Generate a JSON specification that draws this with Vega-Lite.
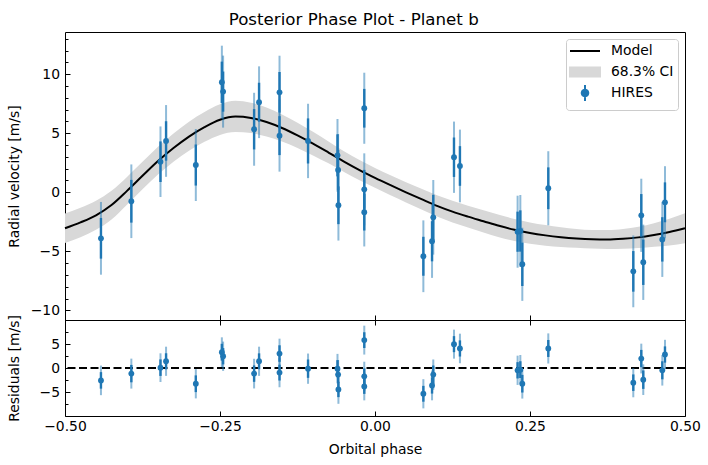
{
  "$schema": "https://vega.github.io/schema/vega-lite/v6.json",
  "background": "white",
  "padding": {"left": 6, "top": 11, "right": 12, "bottom": 5},
  "title": {"text": "Posterior Phase Plot - Planet b", "fontSize": 16.67, "font": "DejaVu Sans", "fontWeight": "normal", "color": "black", "anchor": "middle", "baseline": "bottom", "offset": -14},
  "config": {
    "font": "DejaVu Sans",
    "view": {"stroke": "black", "strokeWidth": 1},
    "axis": {"labelFont": "DejaVu Sans", "labelFontSize": 13.9, "labelColor": "black", "titleFont": "DejaVu Sans", "titleFontSize": 13.9, "titleFontWeight": "normal", "titleColor": "black", "tickColor": "black", "tickWidth": 1, "domain": false, "grid": false, "labelFlush": false, "labelOverlap": false}
  },
  "datasets": {
    "obs": [
      {"phase": -0.442, "rv": -3.90, "err": 1.72, "errj": 3.08, "res": -2.58},
      {"phase": -0.393, "rv": -0.76, "err": 1.81, "errj": 3.12, "res": -1.17},
      {"phase": -0.346, "rv": 2.59, "err": 1.72, "errj": 2.99, "res": 0.07},
      {"phase": -0.337, "rv": 4.35, "err": 1.67, "errj": 3.04, "res": 1.40},
      {"phase": -0.289, "rv": 2.31, "err": 1.74, "errj": 3.05, "res": -3.28},
      {"phase": -0.247, "rv": 9.32, "err": 1.75, "errj": 3.10, "res": 3.29},
      {"phase": -0.245, "rv": 8.53, "err": 1.70, "errj": 3.05, "res": 2.45},
      {"phase": -0.195, "rv": 5.34, "err": 1.71, "errj": 3.09, "res": -1.17},
      {"phase": -0.187, "rv": 7.63, "err": 1.65, "errj": 3.04, "res": 1.40},
      {"phase": -0.154, "rv": 8.47, "err": 1.72, "errj": 3.10, "res": 3.01},
      {"phase": -0.154, "rv": 4.80, "err": 1.65, "errj": 3.05, "res": -0.96},
      {"phase": -0.108, "rv": 4.35, "err": 1.91, "errj": 3.15, "res": -0.14},
      {"phase": -0.0605, "rv": 3.13, "err": 1.78, "errj": 3.08, "res": -0.14},
      {"phase": -0.0595, "rv": 1.89, "err": 1.70, "errj": 3.05, "res": -1.38},
      {"phase": -0.059, "rv": -1.10, "err": 1.60, "errj": 2.99, "res": -4.47},
      {"phase": -0.0173, "rv": 7.12, "err": 1.64, "errj": 3.01, "res": 5.81},
      {"phase": -0.0173, "rv": 0.25, "err": 1.65, "errj": 3.05, "res": -1.74},
      {"phase": -0.0173, "rv": -1.69, "err": 1.55, "errj": 2.90, "res": -3.84},
      {"phase": 0.078, "rv": -5.42, "err": 1.65, "errj": 3.04, "res": -5.37},
      {"phase": 0.092, "rv": -4.15, "err": 1.70, "errj": 3.10, "res": -3.63},
      {"phase": 0.094, "rv": -2.12, "err": 1.90, "errj": 3.16, "res": -1.38},
      {"phase": 0.1274, "rv": 2.97, "err": 1.67, "errj": 3.02, "res": 4.97},
      {"phase": 0.137, "rv": 2.23, "err": 1.68, "errj": 3.08, "res": 4.07},
      {"phase": 0.230, "rv": -3.34, "err": 1.70, "errj": 3.05, "res": -0.48},
      {"phase": 0.2344, "rv": -3.28, "err": 1.75, "errj": 3.05, "res": -0.34},
      {"phase": 0.2376, "rv": -6.10, "err": 1.84, "errj": 3.10, "res": -3.27},
      {"phase": 0.2795, "rv": 0.34, "err": 1.77, "errj": 3.14, "res": 4.07},
      {"phase": 0.4166, "rv": -6.70, "err": 1.72, "errj": 3.04, "res": -3.06},
      {"phase": 0.4295, "rv": -1.95, "err": 1.80, "errj": 3.10, "res": 1.97},
      {"phase": 0.4327, "rv": -5.93, "err": 1.92, "errj": 3.19, "res": -2.43},
      {"phase": 0.4634, "rv": -3.99, "err": 1.88, "errj": 3.18, "res": -0.48},
      {"phase": 0.4677, "rv": -0.85, "err": 1.69, "errj": 3.06, "res": 2.81}
    ],
    "model": [
      {"phase": -0.500, "mid": -3.05, "lo": -4.30, "hi": -1.80},
      {"phase": -0.475, "mid": -2.55, "lo": -3.80, "hi": -1.32},
      {"phase": -0.450, "mid": -1.95, "lo": -3.18, "hi": -0.72},
      {"phase": -0.425, "mid": -1.08, "lo": -2.30, "hi": 0.12},
      {"phase": -0.400, "mid": 0.12, "lo": -1.05, "hi": 1.30},
      {"phase": -0.375, "mid": 1.40, "lo": 0.25, "hi": 2.58},
      {"phase": -0.350, "mid": 2.65, "lo": 1.50, "hi": 3.85},
      {"phase": -0.325, "mid": 3.75, "lo": 2.58, "hi": 4.98},
      {"phase": -0.300, "mid": 4.72, "lo": 3.52, "hi": 5.98},
      {"phase": -0.275, "mid": 5.52, "lo": 4.28, "hi": 6.80},
      {"phase": -0.250, "mid": 6.15, "lo": 4.86, "hi": 7.45},
      {"phase": -0.225, "mid": 6.42, "lo": 5.10, "hi": 7.75},
      {"phase": -0.200, "mid": 6.30, "lo": 5.02, "hi": 7.58},
      {"phase": -0.175, "mid": 5.95, "lo": 4.72, "hi": 7.18},
      {"phase": -0.150, "mid": 5.45, "lo": 4.30, "hi": 6.60},
      {"phase": -0.125, "mid": 4.82, "lo": 3.75, "hi": 5.90},
      {"phase": -0.100, "mid": 4.12, "lo": 3.12, "hi": 5.12},
      {"phase": -0.075, "mid": 3.37, "lo": 2.45, "hi": 4.30},
      {"phase": -0.050, "mid": 2.60, "lo": 1.72, "hi": 3.48},
      {"phase": -0.025, "mid": 1.88, "lo": 1.02, "hi": 2.74},
      {"phase": 0.000, "mid": 1.22, "lo": 0.38, "hi": 2.06},
      {"phase": 0.025, "mid": 0.60, "lo": -0.25, "hi": 1.45},
      {"phase": 0.050, "mid": 0.00, "lo": -0.86, "hi": 0.86},
      {"phase": 0.075, "mid": -0.58, "lo": -1.46, "hi": 0.30},
      {"phase": 0.100, "mid": -1.15, "lo": -2.05, "hi": -0.25},
      {"phase": 0.125, "mid": -1.64, "lo": -2.55, "hi": -0.72},
      {"phase": 0.150, "mid": -2.06, "lo": -2.98, "hi": -1.14},
      {"phase": 0.175, "mid": -2.45, "lo": -3.40, "hi": -1.52},
      {"phase": 0.200, "mid": -2.84, "lo": -3.80, "hi": -1.90},
      {"phase": 0.225, "mid": -3.18, "lo": -4.12, "hi": -2.26},
      {"phase": 0.250, "mid": -3.45, "lo": -4.36, "hi": -2.55},
      {"phase": 0.275, "mid": -3.65, "lo": -4.52, "hi": -2.78},
      {"phase": 0.300, "mid": -3.80, "lo": -4.63, "hi": -2.97},
      {"phase": 0.325, "mid": -3.91, "lo": -4.70, "hi": -3.12},
      {"phase": 0.350, "mid": -3.98, "lo": -4.76, "hi": -3.20},
      {"phase": 0.375, "mid": -4.00, "lo": -4.80, "hi": -3.20},
      {"phase": 0.400, "mid": -3.94, "lo": -4.78, "hi": -3.10},
      {"phase": 0.425, "mid": -3.82, "lo": -4.72, "hi": -2.92},
      {"phase": 0.450, "mid": -3.62, "lo": -4.62, "hi": -2.62},
      {"phase": 0.475, "mid": -3.37, "lo": -4.50, "hi": -2.24},
      {"phase": 0.500, "mid": -3.05, "lo": -4.32, "hi": -1.78}
    ]
  },
  "spacing": 0,
  "bounds": "flush",
  "vconcat": [
    {
      "width": 620,
      "height": 288,
      "layer": [
        {
          "data": {"name": "model"},
          "mark": {"type": "area", "interpolate": "monotone", "opacity": 1},
          "encoding": {
            "x": {"field": "phase", "type": "quantitative", "scale": {"domain": [-0.5, 0.5], "nice": false, "zero": false},
                  "axis": {"orient": "bottom", "values": [-0.5, -0.25, 0, 0.25, 0.5], "labels": false, "tickSize": -5, "title": null}},
            "y": {"field": "lo", "type": "quantitative", "scale": {"domain": [-10.82, 13.58], "nice": false, "zero": false},
                  "axis": {"orient": "left", "values": [-10, -5, 0, 5, 10], "format": "d", "tickSize": -5, "labelPadding": 10.5, "title": "Radial velocity [m/s]", "titlePadding": 9, "minExtent": 35, "maxExtent": 35}},
            "y2": {"field": "hi"},
            "color": {
              "datum": "68.3% CI",
              "scale": {"domain": ["Model", "68.3% CI", "HIRES"], "range": ["black", "#d8d8d8", "#1f77b4"]},
              "legend": {
                "title": null, "orient": "top-right", "offset": 7, "symbolSize": 196,
                "labelFont": "DejaVu Sans", "labelFontSize": 13.9, "labelColor": "black", "labelOffset": 25,
                "padding": 4, "strokeColor": "#cccccc", "fillColor": "white", "cornerRadius": 3, "rowPadding": -5.5,
                "encode": {"symbols": {"update": {
                  "shape": {"signal": "datum.value === 'Model' ? 'M-1.143,-1.2M3.143,1.2M-1.143,0H3.143' : (datum.value === '68.3% CI' ? 'M-1.143,-1.2M3.143,1.2M-1.143,-0.643H3.143V0.643H-1.143Z' : 'M-1.143,-1.2M3.143,1.2M1,-1.143V1.143M1.471,0L1.408,0.236L1.236,0.408L1,0.471L0.764,0.408L0.592,0.236L0.529,0L0.592,-0.236L0.764,-0.408L1,-0.471L1.236,-0.408L1.408,-0.236Z')"},
                  "fill": {"signal": "datum.value === 'Model' ? 'transparent' : (datum.value === '68.3% CI' ? '#d8d8d8' : '#1f77b4')"},
                  "stroke": {"signal": "datum.value === 'Model' ? 'black' : (datum.value === '68.3% CI' ? 'transparent' : '#1f77b4')"},
                  "strokeWidth": {"value": 2},
                  "opacity": {"value": 1},
                  "fillOpacity": {"value": 1},
                  "strokeOpacity": {"value": 1}
                }}}
              }
            }
          }
        },
        {
          "data": {"name": "model"},
          "mark": {"type": "line", "interpolate": "monotone", "strokeWidth": 2},
          "encoding": {
            "x": {"field": "phase", "type": "quantitative", "axis": null},
            "y": {"field": "mid", "type": "quantitative",
                  "axis": {"orient": "left", "values": [-9, -8, -7, -6, -4, -3, -2, -1, 1, 2, 3, 4, 6, 7, 8, 9, 11, 12, 13], "labels": false, "tickSize": -3, "title": null}},
            "color": {
              "datum": "Model",
              "legend": {
                "title": null, "orient": "top-right", "offset": 7, "symbolSize": 196,
                "labelFont": "DejaVu Sans", "labelFontSize": 13.9, "labelColor": "black", "labelOffset": 25,
                "padding": 4, "strokeColor": "#cccccc", "fillColor": "white", "cornerRadius": 3, "rowPadding": -5.5,
                "encode": {"symbols": {"update": {
                  "shape": {"signal": "datum.value === 'Model' ? 'M-1.143,-1.2M3.143,1.2M-1.143,0H3.143' : (datum.value === '68.3% CI' ? 'M-1.143,-1.2M3.143,1.2M-1.143,-0.643H3.143V0.643H-1.143Z' : 'M-1.143,-1.2M3.143,1.2M1,-1.143V1.143M1.471,0L1.408,0.236L1.236,0.408L1,0.471L0.764,0.408L0.592,0.236L0.529,0L0.592,-0.236L0.764,-0.408L1,-0.471L1.236,-0.408L1.408,-0.236Z')"},
                  "fill": {"signal": "datum.value === 'Model' ? 'transparent' : (datum.value === '68.3% CI' ? '#d8d8d8' : '#1f77b4')"},
                  "stroke": {"signal": "datum.value === 'Model' ? 'black' : (datum.value === '68.3% CI' ? 'transparent' : '#1f77b4')"},
                  "strokeWidth": {"value": 2},
                  "opacity": {"value": 1},
                  "fillOpacity": {"value": 1},
                  "strokeOpacity": {"value": 1}
                }}}
              }
            }
          }
        },
        {
          "data": {"name": "obs"},
          "mark": {"type": "errorbar", "thickness": 2, "color": "#1f77b4", "opacity": 0.5},
          "encoding": {
            "x": {"field": "phase", "type": "quantitative", "axis": null},
            "y": {"field": "rv", "type": "quantitative", "axis": null},
            "yError": {"field": "errj"}
          }
        },
        {
          "data": {"name": "obs"},
          "mark": {"type": "errorbar", "thickness": 2.4, "color": "#1f77b4"},
          "encoding": {
            "x": {"field": "phase", "type": "quantitative", "axis": null},
            "y": {"field": "rv", "type": "quantitative", "axis": null},
            "yError": {"field": "err"}
          }
        },
        {
          "data": {"name": "obs"},
          "mark": {"type": "point", "shape": "circle", "filled": true, "size": 34, "opacity": 1},
          "encoding": {
            "x": {"field": "phase", "type": "quantitative", "axis": null},
            "y": {"field": "rv", "type": "quantitative", "axis": null},
            "color": {
              "datum": "HIRES",
              "legend": {
                "title": null, "orient": "top-right", "offset": 7, "symbolSize": 196,
                "labelFont": "DejaVu Sans", "labelFontSize": 13.9, "labelColor": "black", "labelOffset": 25,
                "padding": 4, "strokeColor": "#cccccc", "fillColor": "white", "cornerRadius": 3, "rowPadding": -5.5,
                "encode": {"symbols": {"update": {
                  "shape": {"signal": "datum.value === 'Model' ? 'M-1.143,-1.2M3.143,1.2M-1.143,0H3.143' : (datum.value === '68.3% CI' ? 'M-1.143,-1.2M3.143,1.2M-1.143,-0.643H3.143V0.643H-1.143Z' : 'M-1.143,-1.2M3.143,1.2M1,-1.143V1.143M1.471,0L1.408,0.236L1.236,0.408L1,0.471L0.764,0.408L0.592,0.236L0.529,0L0.592,-0.236L0.764,-0.408L1,-0.471L1.236,-0.408L1.408,-0.236Z')"},
                  "fill": {"signal": "datum.value === 'Model' ? 'transparent' : (datum.value === '68.3% CI' ? '#d8d8d8' : '#1f77b4')"},
                  "stroke": {"signal": "datum.value === 'Model' ? 'black' : (datum.value === '68.3% CI' ? 'transparent' : '#1f77b4')"},
                  "strokeWidth": {"value": 2},
                  "opacity": {"value": 1},
                  "fillOpacity": {"value": 1},
                  "strokeOpacity": {"value": 1}
                }}}
              }
            }
          }
        }
      ],
      "resolve": {"axis": {"x": "independent", "y": "independent"}}
    },
    {
      "width": 620,
      "height": 96,
      "layer": [
        {
          "data": {"values": [{}]},
          "mark": {"type": "rule", "strokeDash": [8, 3.5], "strokeWidth": 2, "color": "black"},
          "encoding": {
            "y": {"datum": 0, "type": "quantitative", "scale": {"domain": [-10, 10], "nice": false, "zero": false},
                  "axis": {"orient": "left", "values": [-5, 0, 5], "format": "d", "tickSize": -5, "labelPadding": 10.5, "title": "Residuals [m/s]", "titlePadding": 9, "minExtent": 35, "maxExtent": 35}}
          }
        },
        {
          "data": {"name": "obs"},
          "mark": {"type": "errorbar", "thickness": 2, "color": "#1f77b4", "opacity": 0.5},
          "encoding": {
            "x": {"field": "phase", "type": "quantitative", "scale": {"domain": [-0.5, 0.5], "nice": false, "zero": false},
                  "axis": {"orient": "bottom", "values": [-0.5, -0.25, 0, 0.25, 0.5], "format": ".2f", "tickSize": -5, "labelPadding": 8, "title": "Orbital phase", "titlePadding": 10}},
            "y": {"field": "res", "type": "quantitative",
                  "axis": {"orient": "left", "values": [-7.5, -2.5, 2.5, 7.5], "labels": false, "tickSize": -3, "title": null}},
            "yError": {"field": "errj"}
          }
        },
        {
          "data": {"name": "obs"},
          "mark": {"type": "errorbar", "thickness": 2.4, "color": "#1f77b4"},
          "encoding": {
            "x": {"field": "phase", "type": "quantitative",
                  "axis": {"orient": "top", "values": [-0.5, -0.25, 0, 0.25, 0.5], "labels": false, "tickSize": -5, "title": null}},
            "y": {"field": "res", "type": "quantitative", "axis": null},
            "yError": {"field": "err"}
          }
        },
        {
          "data": {"name": "obs"},
          "mark": {"type": "point", "shape": "circle", "filled": true, "size": 34, "opacity": 1, "color": "#1f77b4"},
          "encoding": {
            "x": {"field": "phase", "type": "quantitative", "axis": null},
            "y": {"field": "res", "type": "quantitative", "axis": null}
          }
        }
      ],
      "resolve": {"axis": {"x": "independent", "y": "independent"}}
    }
  ]
}
